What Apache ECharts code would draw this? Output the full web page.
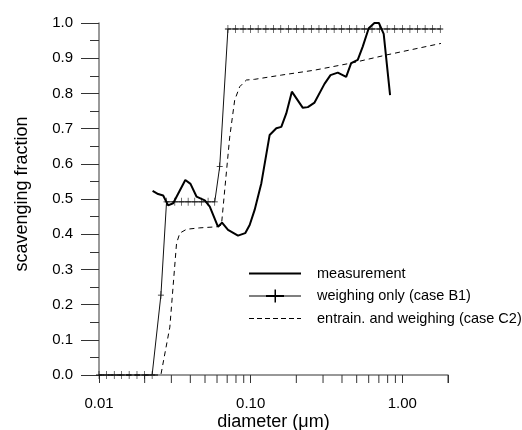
<!DOCTYPE html>
<html>
<head>
<meta charset="utf-8">
<script src="https://cdn.jsdelivr.net/npm/echarts@6/dist/echarts.min.js"></script>
<style>
  html, body { margin: 0; padding: 0; background: #fff; }
  #chart { width: 522px; height: 430px; }
</style>
</head>
<body>
<div id="chart"></div>
<script>
// measured scavenging fraction
var measX = [0.02256, 0.02455, 0.02649, 0.02856, 0.03083, 0.03708, 0.04012, 0.04393, 0.04982, 0.05375,
  0.06093, 0.06473, 0.07091, 0.0825, 0.09201, 0.09849, 0.1062, 0.1176, 0.1334, 0.1476,
  0.1592, 0.1717, 0.1869, 0.2208, 0.2382, 0.2637, 0.3067, 0.336, 0.3753, 0.4262,
  0.4597, 0.5081, 0.5481, 0.6003, 0.6545, 0.7004, 0.7534, 0.83];
var measY = [0.523, 0.514, 0.510, 0.482, 0.488, 0.554, 0.543, 0.507, 0.496, 0.478,
  0.421, 0.433, 0.412, 0.396, 0.403, 0.426, 0.469, 0.545, 0.682, 0.701,
  0.705, 0.743, 0.805, 0.759, 0.761, 0.774, 0.827, 0.852, 0.859, 0.847,
  0.886, 0.895, 0.933, 0.985, 1.0, 1.0, 0.969, 0.795];

// weighing only (case B1)
var b1X = [0.01, 0.0112, 0.0126, 0.0141, 0.0158, 0.0178, 0.02, 0.0224, 0.0256,
  0.02788, 0.03162, 0.035, 0.03869, 0.04281, 0.04739, 0.05238, 0.05797, 0.0625, 0.0708,
  0.0794, 0.0891, 0.1, 0.112, 0.126, 0.141, 0.158, 0.178, 0.2, 0.224, 0.251, 0.282,
  0.316, 0.355, 0.398, 0.447, 0.501, 0.562, 0.631, 0.708, 0.794, 0.891, 1.0, 1.122,
  1.259, 1.413, 1.585, 1.778];
var b1Y = [0, 0, 0, 0, 0, 0, 0, 0, 0.227,
  0.492, 0.492, 0.492, 0.492, 0.492, 0.492, 0.492, 0.492, 0.592, 0.983,
  0.983, 0.983, 0.983, 0.983, 0.983, 0.983, 0.983, 0.983, 0.983, 0.983, 0.983, 0.983,
  0.983, 0.983, 0.983, 0.983, 0.983, 0.983, 0.983, 0.983, 0.983, 0.983, 0.983, 0.983,
  0.983, 0.983, 0.983, 0.983];

// entrain. and weighing (case C2)
var c2X = [0.01, 0.02558, 0.02931, 0.03245, 0.0341, 0.03776, 0.04619, 0.05946, 0.06417,
  0.06745, 0.07275, 0.07846, 0.08465, 0.09369, 0.1062, 0.1592, 0.2637, 0.471, 0.7814, 1.797];
var c2Y = [0, 0, 0.136, 0.374, 0.403, 0.414, 0.418, 0.421, 0.426,
  0.526, 0.676, 0.781, 0.819, 0.838, 0.84, 0.852, 0.866, 0.887, 0.909, 0.942];

// minor ticks of the log axis
var minorX = [0.02, 0.03, 0.04, 0.05, 0.06, 0.07, 0.08, 0.09,
  0.2, 0.3, 0.4, 0.5, 0.6, 0.7, 0.8, 0.9, 2];

var names = ['measurement', 'weighing only (case B1)', 'entrain. and weighing (case C2)'];

function pairs(xs, ys) {
  return xs.map(function (x, i) { return [x, ys[i]]; });
}

var font = 'Liberation Sans, Arial, sans-serif';
var plus = 'path://M-0.5,-5h1v10h-1z M-5,-0.5h10v1h-10z';
// legend icons, drawn in a 52 x 14 box
var iconMeas = 'path://M0,0h52v2h-52z';
var iconB1 = 'path://M0,0h0.1v0.1h-0.1z M0,6.5h52v1h-52z M17,6h18v2h-18z M25.5,0.5h1.5v13h-1.5z M51.9,13.9h0.1v0.1h-0.1z';
var iconC2 = 'path://M0,0h5v1h-5z M8,0h5v1h-5z M16,0h5v1h-5z M24,0h5v1h-5z M32,0h5v1h-5z M40,0h5v1h-5z M48,0h4v1h-4z';

var myChart = echarts.init(document.getElementById('chart'));
myChart.setOption({
  animation: false,
  grid: { left: 99, right: 74, top: 23, bottom: 55, containLabel: false, outerBoundsMode: 'none' },
  legend: {
    data: [
      { name: names[0], icon: iconMeas },
      { name: names[1], icon: iconB1 },
      { name: names[2], icon: iconC2 }
    ],
    orient: 'vertical',
    left: 249,
    top: 266,
    padding: 0,
    itemWidth: 52,
    itemHeight: 14,
    itemGap: 7.5,
    itemStyle: { color: '#000', borderWidth: 0 },
    textStyle: { fontFamily: font, fontSize: 14.5, color: '#000', padding: [0, 0, 0, 11] }
  },
  xAxis: {
    type: 'log',
    logBase: 10,
    min: 0.01,
    max: 2,
    name: 'diameter (μm)',
    nameLocation: 'middle',
    nameGap: 38,
    nameMoveOverlap: false,
    nameTextStyle: { fontFamily: font, fontSize: 18, color: '#000' },
    axisLine: { lineStyle: { color: '#777', width: 1.5 } },
    axisTick: { length: 8, lineStyle: { color: '#333' } },
    axisLabel: {
      margin: 21,
      fontFamily: font, fontSize: 15, color: '#000',
      formatter: function (v) {
        var l = Math.log10(v);
        return Math.abs(l - Math.round(l)) < 1e-6 ? v.toFixed(2) : '';
      }
    },
    splitLine: { show: false }
  },
  yAxis: {
    type: 'value',
    min: 0,
    max: 1,
    interval: 0.1,
    name: 'scavenging fraction',
    nameLocation: 'middle',
    nameGap: 68,
    nameMoveOverlap: false,
    nameTextStyle: { fontFamily: font, fontSize: 18, color: '#000', padding: [0, 0, 0, 10] },
    axisLine: { show: true, lineStyle: { color: '#777', width: 1.5 } },
    axisTick: { show: true, length: 18, lineStyle: { color: '#333' } },
    minorTick: { show: true, splitNumber: 2, length: 9, lineStyle: { color: '#333' } },
    axisLabel: {
      margin: 26,
      fontFamily: font, fontSize: 15, color: '#000',
      formatter: function (v) { return v.toFixed(1); }
    },
    splitLine: { show: false }
  },
  series: [
    {
      name: names[0],
      type: 'line',
      data: pairs(measX, measY),
      symbol: 'none',
      clip: false,
      lineStyle: { color: '#000', width: 2 },
      itemStyle: { color: '#000' },
      z: 4
    },
    {
      name: names[1],
      type: 'line',
      data: pairs(b1X, b1Y),
      symbol: plus,
      symbolSize: [6, 8],
      clip: false,
      lineStyle: { color: '#111', width: 1 },
      itemStyle: { color: '#111' },
      z: 3
    },
    {
      name: names[2],
      type: 'line',
      data: pairs(c2X, c2Y),
      symbol: 'none',
      clip: false,
      lineStyle: { color: '#000', width: 1, type: [5, 4] },
      itemStyle: { color: '#000' },
      z: 3
    },
    {
      type: 'custom',
      data: minorX.map(function (x) { return [x, 0]; }),
      clip: false,
      silent: true,
      renderItem: function (params, api) {
        var p = api.coord([api.value(0), 0]);
        return {
          type: 'line',
          shape: { x1: p[0], y1: p[1], x2: p[0], y2: p[1] + 8 },
          style: { stroke: '#333', lineWidth: 1 }
        };
      }
    }
  ]
});
window.addEventListener('resize', myChart.resize);
</script>
</body>
</html>
